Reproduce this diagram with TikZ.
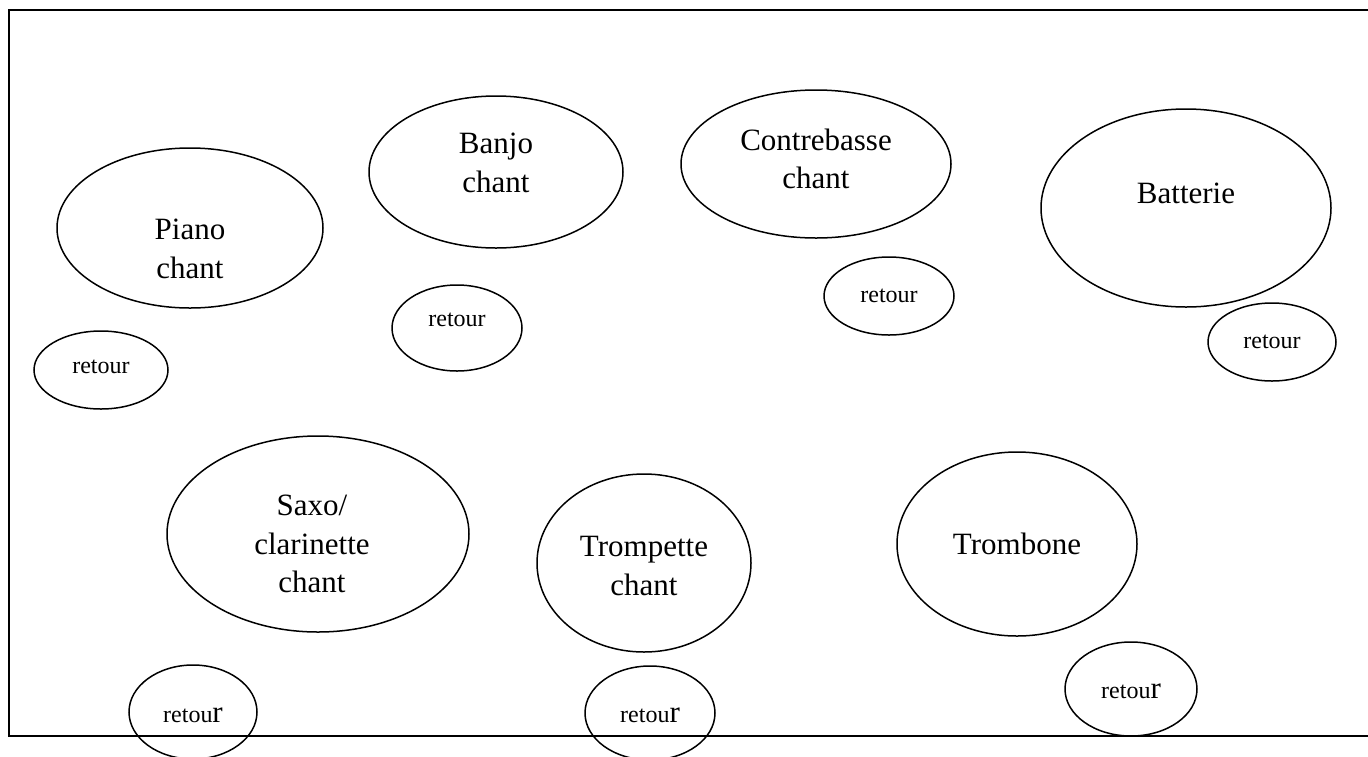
\documentclass[tikz,border=0pt]{standalone}
\usepackage{fontspec}
\setmainfont{Liberation Serif}
\usetikzlibrary{shapes.geometric}
\begin{document}
\begin{tikzpicture}[x=1pt,y=-1pt,
  oval/.style={draw,ellipse,line width=1.5pt,inner sep=0pt},
  big/.style={font=\fontsize{31}{38.5}\selectfont,align=center,inner sep=0pt},
  small/.style={font=\fontsize{24}{28}\selectfont,inner sep=0pt},
  frame/.style={line width=1.8pt,black}]
\useasboundingbox (0,0) rectangle (1368,756);
\coordinate (tr) at (1372,10);
\coordinate (tl) at (9,10);
\coordinate (bl) at (9,736);
\coordinate (br) at (1372,736);
\draw[frame] (tr) -- (tl) -- (bl) -- (br);
% large ellipses
\node[oval,minimum width=266,minimum height=160] (piano) at (190,228) {};
\node[oval,minimum width=254,minimum height=152] (banjo) at (496,172) {};
\node[oval,minimum width=270,minimum height=148] (contre) at (816,164) {};
\node[oval,minimum width=290,minimum height=198] (batt) at (1186,208) {};
\node[oval,minimum width=302,minimum height=196] (saxo) at (318,534) {};
\node[oval,minimum width=214,minimum height=178] (tromp) at (644,563) {};
\node[oval,minimum width=240,minimum height=184] (tromb) at (1017,544) {};
% small ellipses
\node[oval,minimum width=134,minimum height=78] (r1) at (101,370) {};
\node[oval,minimum width=130,minimum height=86] (r2) at (457,328) {};
\node[oval,minimum width=130,minimum height=78] (r3) at (889,296) {};
\node[oval,minimum width=128,minimum height=78] (r4) at (1272,342) {};
\node[oval,minimum width=128,minimum height=94] (r5) at (193,712) {};
\node[oval,minimum width=130,minimum height=94] (r6) at (650,713) {};
\node[oval,minimum width=132,minimum height=94] (r7) at (1131,689) {};
% texts
\node[big] (tpiano) at (190,249) {Piano\\chant};
\node[big] (tbanjo) at (496,163) {Banjo\\chant};
\node[big] (tcontre) at (816,159) {Contrebasse\\chant};
\node[big] (tbatt) at (1186,193) {Batterie};
\node[big] (tsaxo) at (312,544) {Saxo/\\clarinette\\chant};
\node[big] (ttromp) at (644,566) {Trompette\\chant};
\node[big] (ttromb) at (1017,544) {Trombone};
\node[small] (tr1) at (101,367) {retour};
\node[small] (tr2) at (457,320) {retour};
\node[small] (tr3) at (889,296) {retour};
\node[small] (tr4) at (1272,342) {retour};
\node[small,anchor=base] (tr5) at (193,722) {retou{\fontsize{31}{37}\selectfont r}};
\node[small,anchor=base] (tr6) at (650,722) {retou{\fontsize{31}{37}\selectfont r}};
\node[small,anchor=base] (tr7) at (1131,698) {retou{\fontsize{31}{37}\selectfont r}};
\end{tikzpicture}
\end{document}
